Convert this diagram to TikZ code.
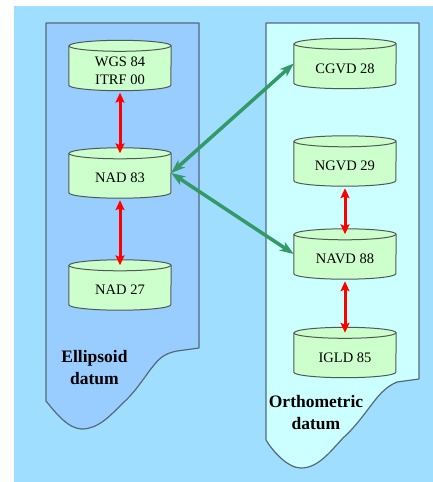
\documentclass[tikz,border=0pt]{standalone}
\usepackage{fontspec}
\setmainfont{Liberation Serif}
\newfontfamily\tnr{Liberation Serif}
\usetikzlibrary{arrows.meta,calc}
\pgfdeclarelayer{bg}
\pgfdeclarelayer{cyl}
\pgfsetlayers{bg,cyl,main}
\definecolor{skybg}{RGB}{160,222,255}
\definecolor{leftdoc}{RGB}{153,204,255}
\definecolor{rightdoc}{RGB}{204,255,255}
\definecolor{docline}{RGB}{85,105,120}
\definecolor{cylfillc}{RGB}{204,255,204}
\definecolor{cyllinec}{RGB}{80,90,85}
\definecolor{greenarrc}{RGB}{51,153,102}
\newcommand\drawcyl[1]{%
  \path[fill=cylfillc,draw=cyllinec,line width=1pt]
    ($(#1.north west)+(0pt,-5.5pt)$) -- ($(#1.south west)+(0pt,5.5pt)$)
    arc[start angle=180,end angle=360,x radius=51pt,y radius=5.5pt]
    -- ($(#1.north east)+(0pt,-5.5pt)$)
    arc[start angle=0,end angle=180,x radius=51pt,y radius=5.5pt] -- cycle;
  \draw[draw=cyllinec,line width=1pt]
    ($(#1.north west)+(0pt,-5.5pt)$)
    arc[start angle=180,end angle=360,x radius=51pt,y radius=5.5pt];}
\tikzset{
  cylnode/.style={rectangle,minimum width=102pt,minimum height=50pt,inner sep=0pt},
  cyltext/.style={font=\tnr\fontsize{14.5}{18}\selectfont,align=center,inner sep=0pt,yshift=-5pt},
  doctext/.style={font=\tnr\fontsize{17.5}{22}\selectfont\bfseries,align=center,inner sep=0pt},
  docshape/.style={draw=docline,line width=1.2pt,line join=round},
  redarr/.style={draw=red,line width=3pt,
    {Stealth[length=10pt,width=9pt,inset=2pt]}-{Stealth[length=10pt,width=9pt,inset=2pt]},
    shorten <=2pt,shorten >=-5.5pt},
  greenarr/.style={draw=greenarrc,line width=3.5pt,
    {Stealth[length=14pt,width=10pt,inset=4pt]}-{Stealth[length=14pt,width=10pt,inset=4pt]}}
}
\begin{document}
\begin{tikzpicture}[x=1pt,y=-1pt]
\useasboundingbox (0,0) rectangle (433,482);
\begin{pgfonlayer}{bg}
\fill[skybg] (14,6) rectangle (433,482);
\path[docshape,fill=leftdoc] (46,23) -- (199,23) -- (199,348) -- (177,351)
  .. controls (162,354) and (158,360) .. (150,370)
  .. controls (140,384) and (133,394) .. (123,403)
  .. controls (110,416) and (98,429) .. (82,429)
  .. controls (68,429) and (55,412) .. (46,401) -- cycle;
\path[docshape,fill=rightdoc] (266,23) -- (419,23) -- (419,379) -- (397,382)
  .. controls (385,387) and (378,396) .. (369,408)
  .. controls (360,420) and (352,430) .. (343,438)
  .. controls (330,452) and (318,468) .. (301,468)
  .. controls (287,468) and (272,450) .. (266,440) -- cycle;
\end{pgfonlayer}

\node[cylnode,label={[cyltext]center:{WGS 84\\ITRF 00}}] (wgs) at (120,65.5) {};
\node[cylnode,label={[cyltext]center:NAD 83}] (nad83) at (120,173) {};
\node[cylnode,label={[cyltext]center:NAD 27}] (nad27) at (120,285) {};
\node[cylnode,label={[cyltext]center:CGVD 28}] (cgvd) at (345,63.5) {};
\node[cylnode,label={[cyltext]center:NGVD 29}] (ngvd) at (345,161) {};
\node[cylnode,label={[cyltext]center:NAVD 88}] (navd) at (345,254) {};
\node[cylnode,label={[cyltext]center:IGLD 85}] (igld) at (345,352.5) {};

\begin{pgfonlayer}{cyl}
\drawcyl{wgs}\drawcyl{nad83}\drawcyl{nad27}
\drawcyl{cgvd}\drawcyl{ngvd}\drawcyl{navd}\drawcyl{igld}
\end{pgfonlayer}

\node[doctext] (ell) at (94.5,368) {Ellipsoid\\datum};
\node[doctext] (orth) at (316,412.5) {Orthometric\\datum};

\draw[redarr] (wgs.south) -- (nad83.north);
\draw[redarr] (nad83.south) -- (nad27.north);
\draw[redarr] (ngvd.south) -- (navd.north);
\draw[redarr] (navd.south) -- (igld.north);
\draw[greenarr] (nad83.east) -- (cgvd.west);
\draw[greenarr] (nad83.east) -- (navd.west);
\end{tikzpicture}
\end{document}
